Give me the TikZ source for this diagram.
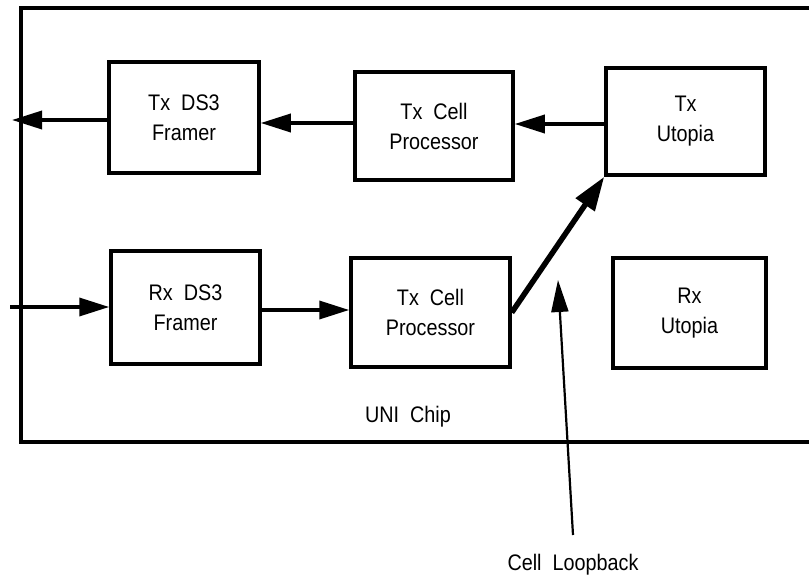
\documentclass[tikz,border=0pt]{standalone}
\usepackage{fontspec}
\setmainfont{Liberation Sans}[FakeStretch=0.88]
\usetikzlibrary{arrows.meta}
\begin{document}
\begin{tikzpicture}[x=1pt,y=-1pt,
  blk/.style={draw,line width=3.5pt,align=center,inner sep=0pt,
    font=\fontsize{22.5}{30}\selectfont},
  arr/.style={line width=3.5pt,-{Triangle[length=30pt,width=18pt]}},
  thickarr/.style={line width=5.5pt,-{Triangle[length=34pt,width=22pt]}},
  thinarr/.style={line width=2.2pt,-{Triangle[length=32pt,width=17pt]}},
  lbl/.style={font=\fontsize{22.5}{30}\selectfont,inner sep=0pt}]
\useasboundingbox (0,0) rectangle (809,580);
\draw[line width=3.5pt] (809,8) -- (21,8) -- (21,442) -- (809,442);
\node[blk,minimum width=150pt,minimum height=111pt] (txfr) at (184,117.5) {Tx\ \ DS3\\Framer};
\node[blk,minimum width=158pt,minimum height=108pt] (txcp) at (434,126) {Tx\ \ Cell\\Processor};
\node[blk,minimum width=159pt,minimum height=107pt] (txut) at (685.5,121.5) {Tx\\Utopia};
\node[blk,minimum width=149pt,minimum height=113pt] (rxfr) at (185.5,307.5) {Rx\ \ DS3\\Framer};
\node[blk,minimum width=159pt,minimum height=109pt] (rxcp) at (430.5,312.5) {Tx\ \ Cell\\Processor};
\node[blk,minimum width=153pt,minimum height=110pt] (rxut) at (689.5,313) {Rx\\Utopia};
\node[lbl] (uni) at (408,417) {UNI\ \ Chip};
\node[lbl] (cl) at (573,565) {Cell\ \ Loopback};
\coordinate (out) at (12,120);
\coordinate (in) at (10,307);
\coordinate (clbase) at (573,535);
\coordinate (cltip) at (558,280);
\coordinate (a1) at (0,124);
\coordinate (a2) at (0,123);
\coordinate (a3) at (0,310);
\draw[arr] (txut.west |- a1) -- (txcp.east |- a1);
\draw[arr] (txcp.west |- a2) -- (txfr.east |- a2);
\draw[arr] (txfr.west |- out) -- (out);
\draw[arr] (in) -- (rxfr.west |- in);
\draw[arr] (rxfr.east |- a3) -- (rxcp.west |- a3);
\draw[thickarr] (rxcp.east) -- (txut.south west);
\draw[thinarr] (clbase) -- (cltip);
\end{tikzpicture}
\end{document}
